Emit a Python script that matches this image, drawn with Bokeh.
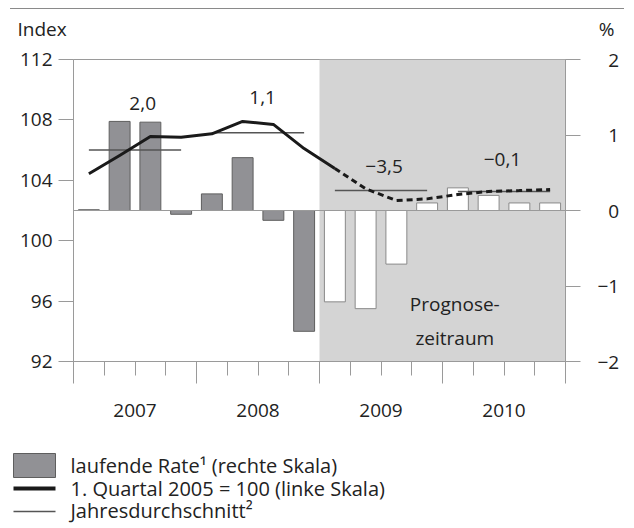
from bokeh.plotting import figure
from bokeh.models import (Range1d, LinearAxis, FixedTicker, Span, BoxAnnotation,
                          Label, Title, ColumnDataSource, InlineStyleSheet)
from bokeh.core.properties import value
from bokeh.embed import file_html
from bokeh.resources import INLINE

# ---------------- data ----------------
years = ["2007", "2008", "2009", "2010"]
# quarterly rate, % (right scale)
rate = [0.01, 1.18, 1.17, -0.05, 0.22, 0.70, -0.13, -1.60,
        -1.21, -1.30, -0.71, 0.10, 0.30, 0.20, 0.10, 0.10]
# index, 1st quarter 2005 = 100 (left scale)
index_vals = [104.43, 105.64, 106.90, 106.85, 107.08, 107.90, 107.70, 106.10,
              104.78, 103.44, 102.66, 102.77, 103.06, 103.26, 103.32, 103.39]
# annual averages of the index
annual_avg = [106.0, 107.15, 103.32, 103.26]
annual_rate_text = ["2,0", "1,1", "\u22123,5", "\u22120,1"]
left_ticks = [92, 96, 100, 104, 108, 112]
right_ticks = [-2, -1, 0, 1, 2]
n_hist = 8  # quarters before the forecast period
legend_labels = ["laufende Rate\u00b9 (rechte Skala)",
                 "1. Quartal 2005 = 100 (linke Skala)",
                 "Jahresdurchschnitt\u00b2"]

# ---------------- style ----------------
FONT = "Open Sans"
TXT = "#222222"
AX = "#9a9a9a"
BAR_GRAY = "#919195"
BAR_EDGE = "#5e5e5e"
FC_EDGE = "#8a8a8a"
SHADE = "#d4d4d4"
LINE_C = "#1a1a1a"
AVG_C = "#555555"
FS = "19px"
FS_LEG = "20px"

nq = len(rate)
xq = [i + 0.5 for i in range(nq)]

p = figure(frame_width=492, frame_height=302,
           x_range=Range1d(0, nq), y_range=Range1d(92, 112),
           output_backend="svg", toolbar_location=None,
           min_border_left=73, min_border_right=61,
           min_border_top=59, min_border_bottom=79)
p.extra_y_ranges = {"pct": Range1d(-2, 2)}
p.grid.visible = False
p.outline_line_color = AX
# thin rule at the very top of the page
p.stylesheets = [InlineStyleSheet(css=(
    ":host::after { content: ''; position: absolute; left: 10px; top: 8px; "
    "width: 614px; height: 0px; border-top: 1px solid #8a8a8a; pointer-events: none; }"))]

# left axis
ya = p.yaxis[0]
ya.ticker = FixedTicker(ticks=left_ticks)
ya.axis_line_color = AX
ya.major_tick_line_color = AX
ya.major_tick_in = 0
ya.major_tick_out = 15
ya.minor_tick_line_color = None
ya.major_label_standoff = 6
ya.major_label_text_font = FONT
ya.major_label_text_font_size = FS
ya.major_label_text_color = TXT

# right axis
ra = LinearAxis(y_range_name="pct", ticker=FixedTicker(ticks=right_ticks))
ra.axis_line_color = AX
ra.major_tick_line_color = AX
ra.major_tick_in = 0
ra.major_tick_out = 15
ra.minor_tick_line_color = None
ra.major_label_standoff = 17
ra.major_label_text_font = FONT
ra.major_label_text_font_size = FS
ra.major_label_text_color = TXT
ra.major_label_overrides = {t: ("\u2007" + str(t) if t >= 0 else "\u2212" + str(-t))
                            for t in right_ticks}
p.add_layout(ra, "right")

# bottom axis: long ticks at year boundaries, short ticks at quarters
xa = p.xaxis[0]
xa.ticker = FixedTicker(ticks=[4 * i for i in range(len(years) + 1)],
                        minor_ticks=list(range(nq + 1)))
xa.axis_line_color = AX
xa.major_tick_line_color = AX
xa.minor_tick_line_color = AX
xa.major_tick_in = 0
xa.major_tick_out = 22
xa.minor_tick_in = 0
xa.minor_tick_out = 14
xa.major_label_overrides = {4 * i: "" for i in range(len(years) + 1)}
xa.major_label_text_font_size = "1px"
xa.major_label_standoff = 0

# year labels on a second bottom axis
xa2 = LinearAxis(ticker=FixedTicker(ticks=[4 * i + 2 for i in range(len(years))]))
xa2.major_label_overrides = {4 * i + 2: yr for i, yr in enumerate(years)}
xa2.axis_line_color = None
xa2.major_tick_line_color = None
xa2.minor_tick_line_color = None
xa2.major_label_standoff = 14
xa2.major_label_text_font = FONT
xa2.major_label_text_font_size = FS
xa2.major_label_text_color = TXT
p.add_layout(xa2, "below")

# forecast period shading
p.add_layout(BoxAnnotation(left=n_hist, right=nq, fill_color=SHADE, fill_alpha=1,
                           line_color=None, level="underlay"))

# bars
src_h = ColumnDataSource(dict(x=xq[:n_hist], top=rate[:n_hist]))
src_f = ColumnDataSource(dict(x=xq[n_hist:], top=rate[n_hist:]))
p.vbar(x="x", top="top", bottom=0, width=0.68, source=src_h, y_range_name="pct",
       fill_color=BAR_GRAY, line_color=BAR_EDGE, line_width=1)
p.vbar(x="x", top="top", bottom=0, width=0.68, source=src_f, y_range_name="pct",
       fill_color="white", line_color=FC_EDGE, line_width=1)

p.add_layout(Span(location=0, dimension="width", y_range_name="pct",
                  line_color=AX, line_width=1))

# annual averages
x0 = [4 * i + 0.5 for i in range(len(years))]
x1 = [4 * i + 3.5 for i in range(len(years))]
p.segment(x0=x0, x1=x1, y0=annual_avg, y1=annual_avg, line_color=AVG_C, line_width=1.5)

# index line (solid, then dashed in the forecast period)
p.line(xq[:n_hist + 1], index_vals[:n_hist + 1], line_color=LINE_C,
       line_width=3, line_join="round")
p.line(xq[n_hist:], index_vals[n_hist:], line_color=LINE_C, line_width=3,
       line_dash="6 4")

# annual rates
lab_x = [4 * i + 2 + d for i, d in enumerate([0.25, 0.15, 0.1, -0.05])]
lab_y = [109.1, 109.5, 104.9, 105.4]
p.text(x=lab_x, y=lab_y, text=annual_rate_text, text_align="center",
       text_baseline="middle", text_font=value(FONT), text_font_size=FS,
       text_color=TXT)

p.add_layout(Label(x=12.4, y=94.7, text="Prognose-\nzeitraum",
                   text_align="center", text_baseline="middle", text_line_height=1.3,
                   text_font=FONT, text_font_size=FS, text_color=TXT))

# unit titles above the axes (second one pulled down onto the first one's line)
p.add_layout(Title(text="Index", align="left", offset=-56, standoff=31,
                   vertical_align="top",
                   text_font=FONT, text_font_size=FS, text_font_style="normal",
                   text_color=TXT), "above")
p.add_layout(Title(text="%", align="right", offset=-49, standoff=-83,
                   text_font=FONT, text_font_size=FS, text_font_style="normal",
                   text_color=TXT), "above")

# ---------------- legend (separate strip below the chart, pixel coordinates) ----------------
leg = figure(width=626, height=88, x_range=Range1d(0, 626), y_range=Range1d(0, 88),
             min_border=0, toolbar_location=None, output_backend="svg",
             x_axis_type=None, y_axis_type=None)
leg.outline_line_color = None
leg.grid.visible = False
leg.quad(left=13, right=55, bottom=51, top=75, fill_color=BAR_GRAY, line_color=BAR_EDGE)
leg.segment(x0=13, x1=55, y0=40, y1=40, line_color=LINE_C, line_width=4)
leg.segment(x0=13, x1=55, y0=17, y1=17, line_color=AVG_C, line_width=1.3)
leg.text(x=70, y=[63, 40, 18], text=legend_labels, text_align="left",
         text_baseline="middle", text_font=value(FONT), text_font_size=FS_LEG,
         text_color=TXT)

open("out.html", "w").write(file_html([p, leg], INLINE))
